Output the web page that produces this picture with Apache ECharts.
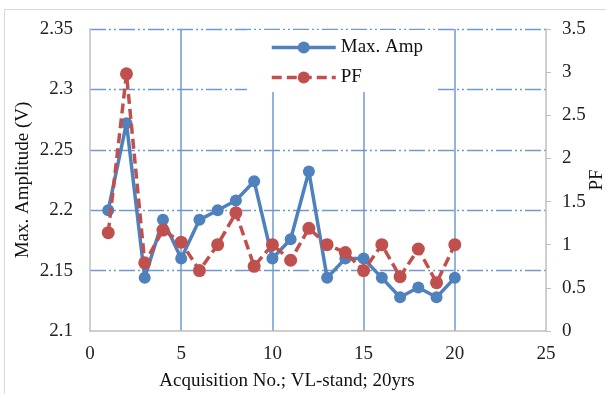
<!DOCTYPE html>
<html>
<head>
<meta charset="utf-8">
<script src="https://cdn.jsdelivr.net/npm/echarts@6/dist/echarts.min.js"></script>
<style>
  html, body { margin: 0; padding: 0; background: #fff; }
  #chart { width: 606px; height: 394px; }
</style>
</head>
<body>
<div id="chart"></div>
<script>
// Acquisition number (x) for each measurement
const acquisition = [1, 2, 3, 4, 5, 6, 7, 8, 9, 10, 11, 12, 13, 14, 15, 16, 17, 18, 19, 20];
// Maximum amplitude in volts (left axis)
const maxAmp = [2.200, 2.272, 2.144, 2.192, 2.160, 2.192, 2.200, 2.208, 2.224, 2.160,
                2.176, 2.232, 2.144, 2.160, 2.160, 2.144, 2.128, 2.136, 2.128, 2.144];
// PF values (right axis)
const pf = [1.14, 2.98, 0.79, 1.17, 1.03, 0.70, 1.00, 1.37, 0.75, 1.00,
            0.82, 1.19, 1.00, 0.91, 0.70, 1.00, 0.63, 0.95, 0.56, 1.00];

const ampAxisTicks = { min: 2.1, max: 2.35, step: 0.05 };
const pfAxisTicks = { min: 0, max: 3.5, step: 0.5 };
const xAxisTicks = { min: 0, max: 25, step: 5 };

const FONT = 'Liberation Serif';
const FONT_SIZE = 19;
const BLUE = '#4f81bd';
const RED = '#c0504d';
const GRID_BLUE = '#6f99d2';
const AXIS_GRAY = '#bfbfbf';

const chart = echarts.init(document.getElementById('chart'), null, { renderer: 'canvas' });

const pair = (xs, ys) => xs.map((x, i) => [x, ys[i]]);

chart.setOption({
  animation: false,
  backgroundColor: '#fff',
  textStyle: { fontFamily: FONT },
  graphic: [{
    type: 'rect',
    shape: { x: 4.5, y: 9.5, width: 610, height: 400 },
    style: { fill: 'none', stroke: '#d9d9d9', lineWidth: 1 },
    silent: true,
    z: -1
  }],
  grid: { left: 90, right: 60, top: 29, bottom: 63, outerBoundsMode: 'none', containLabel: false },
  legend: {
    orient: 'vertical',
    left: 247,
    top: 30,
    padding: [8, 15, 5, 23],
    itemGap: 11,
    itemWidth: 64,
    itemHeight: 15,
    backgroundColor: '#fff',
    lineStyle: { width: 3.5 },
    textStyle: { fontFamily: FONT, fontSize: FONT_SIZE, color: '#111' },
    data: ['Max. Amp', 'PF']
  },
  xAxis: {
    type: 'value',
    min: xAxisTicks.min,
    max: xAxisTicks.max,
    interval: xAxisTicks.step,
    name: 'Acquisition No.; VL-stand; 20yrs',
    nameLocation: 'middle',
    nameMoveOverlap: false,
    nameGap: 41,
    nameTextStyle: { fontFamily: FONT, fontSize: FONT_SIZE, color: '#111', padding: [0, 62, 0, 0] },
    axisLine: { show: true, lineStyle: { color: AXIS_GRAY, width: 1.5 } },
    axisTick: { show: false },
    axisLabel: { fontFamily: FONT, fontSize: FONT_SIZE, color: '#222', margin: 14 },
    splitLine: {
      show: true, showMinLine: false, showMaxLine: false,
      lineStyle: { color: GRID_BLUE, width: 1.5, type: 'solid' }
    }
  },
  yAxis: [{
    type: 'value',
    position: 'left',
    min: ampAxisTicks.min,
    max: ampAxisTicks.max,
    interval: ampAxisTicks.step,
    name: 'Max. Amplitude (V)',
    nameLocation: 'middle',
    nameMoveOverlap: false,
    nameRotate: 90,
    nameGap: 57,
    nameTextStyle: { fontFamily: FONT, fontSize: FONT_SIZE, color: '#111' },
    axisLine: { show: true, lineStyle: { color: AXIS_GRAY, width: 1.5 } },
    axisTick: { show: false },
    axisLabel: {
      fontFamily: FONT, fontSize: FONT_SIZE, color: '#222', margin: 17,
      formatter: v => String(parseFloat(v.toFixed(2)))
    },
    splitLine: {
      show: true, showMinLine: false,
      lineStyle: { color: GRID_BLUE, width: 1.3, type: [16, 3, 2, 3, 2, 3] }
    }
  }, {
    type: 'value',
    position: 'right',
    min: pfAxisTicks.min,
    max: pfAxisTicks.max,
    interval: pfAxisTicks.step,
    name: 'PF',
    nameLocation: 'middle',
    nameMoveOverlap: false,
    nameRotate: 90,
    nameGap: 42,
    nameTextStyle: { fontFamily: FONT, fontSize: FONT_SIZE, color: '#111' },
    axisLine: { show: true, lineStyle: { color: AXIS_GRAY, width: 1.5 } },
    axisTick: { show: true, inside: false, length: 5, lineStyle: { color: AXIS_GRAY } },
    axisLabel: {
      fontFamily: FONT, fontSize: FONT_SIZE, color: '#222', margin: 16,
      formatter: v => String(parseFloat(v.toFixed(1)))
    },
    splitLine: { show: false }
  }],
  series: [{
    name: 'Max. Amp',
    type: 'line',
    yAxisIndex: 0,
    data: pair(acquisition, maxAmp),
    symbol: 'circle',
    symbolSize: 12,
    itemStyle: { color: BLUE },
    lineStyle: { color: BLUE, width: 3.5 },
    z: 3
  }, {
    name: 'PF',
    type: 'line',
    yAxisIndex: 1,
    data: pair(acquisition, pf),
    symbol: 'circle',
    symbolSize: 13,
    itemStyle: { color: RED },
    lineStyle: { color: RED, width: 3.5, type: [10, 5] },
    z: 4
  }]
});
</script>
</body>
</html>
